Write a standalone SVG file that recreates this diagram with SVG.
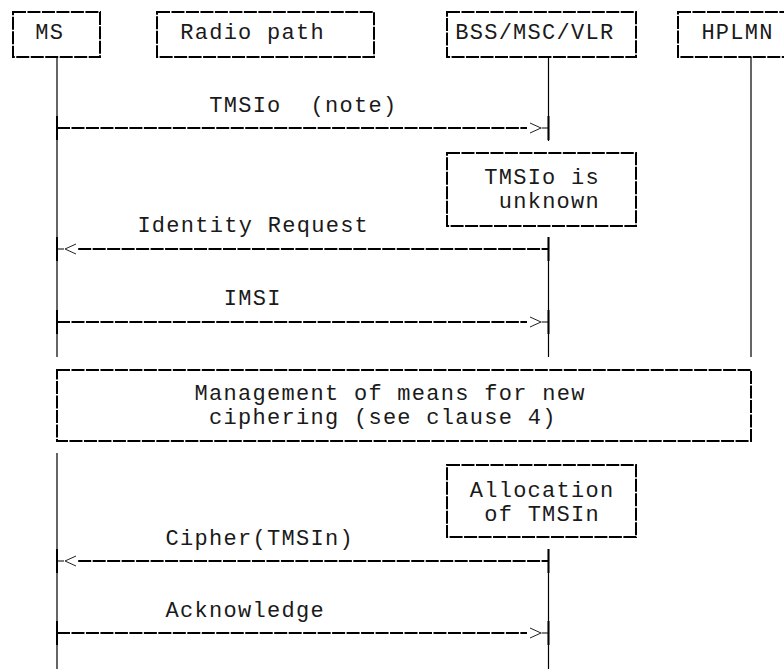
<svg xmlns="http://www.w3.org/2000/svg" width="784" height="669" viewBox="0 0 784 669">
<style>
text{font-family:"Liberation Mono","Courier New",monospace;font-size:22px;letter-spacing:1.28px;fill:#1a1a1a;white-space:pre}
.bx{fill:none;stroke:#000;stroke-width:2;stroke-dasharray:13 1.48}
.life{stroke:#000;stroke-width:1.2;fill:none}
.msg{stroke:#000;stroke-width:2;stroke-dasharray:13 1.48;fill:none}
.tick{stroke:#000;stroke-width:2;fill:none}
.stub{stroke:#555;stroke-width:1.5;fill:none}
.head{stroke:#222;stroke-width:1;fill:none}
</style>
<rect width="784" height="669" fill="#fff"/>
<g id="node-ms">
<rect class="bx" x="13" y="12" width="87" height="45"/>
<text x="35.3" y="39">MS</text>
</g>
<g id="node-radio">
<rect class="bx" x="157" y="12" width="217" height="45"/>
<text x="180.2" y="39">Radio path</text>
</g>
<g id="node-bss">
<rect class="bx" x="447" y="12" width="189" height="45"/>
<text x="455.2" y="39">BSS/MSC/VLR</text>
</g>
<g id="node-hplmn">
<rect class="bx" x="678" y="12" width="130" height="45"/>
<text x="701.4" y="39">HPLMN</text>
</g>
<g id="note-unknown">
<rect class="bx" x="447" y="153" width="189" height="73"/>
<text x="484.2" y="183.5">TMSIo is</text>
<text x="498.7" y="207.5">unknown</text>
</g>
<g id="note-management">
<rect class="bx" x="57" y="370" width="694" height="71"/>
<text x="194.6" y="400">Management of means for new</text>
<text x="209.1" y="423.5">ciphering (see clause 4)</text>
</g>
<g id="note-allocation">
<rect class="bx" x="447" y="465" width="189" height="72"/>
<text x="469.7" y="496.5">Allocation</text>
<text x="484.2" y="520.5">of TMSIn</text>
</g>
<g id="connectors">
<path class="life" d="M57 57V357M57 453V669M548.5 57V141M548.5 237V357M548.5 549V669M751 57V357"/>
<g id="msg-tmsio">
<path class="msg" d="M57 128H527"/>
<path class="head" d="M530 123L541 128L530 133"/>
<path class="stub" d="M541.5 128H548.5"/>
<path class="tick" d="M57 116V140M548.5 116V140"/>
<text x="209.2" y="111.5">TMSIo  (note)</text>
</g>
<g id="msg-identity">
<path class="msg" d="M78.2 249H548.5"/>
<path class="head" d="M76 244L65 249L76 254"/>
<path class="stub" d="M57 249H64"/>
<path class="tick" d="M57 237V261M548.5 237V261"/>
<text x="137.4" y="231.5">Identity Request</text>
</g>
<g id="msg-imsi">
<path class="msg" d="M57 322H527"/>
<path class="head" d="M530 317L541 322L530 327"/>
<path class="stub" d="M541.5 322H548.5"/>
<path class="tick" d="M57 310V334M548.5 310V334"/>
<text x="223.7" y="304.5">IMSI</text>
</g>
<g id="msg-cipher">
<path class="msg" d="M78.2 561H548.5"/>
<path class="head" d="M76 556L65 561L76 566"/>
<path class="stub" d="M57 561H64"/>
<path class="tick" d="M57 549V573M548.5 549V573"/>
<text x="165.6" y="544.5">Cipher(TMSIn)</text>
</g>
<g id="msg-ack">
<path class="msg" d="M57 633H527"/>
<path class="head" d="M530 628L541 633L530 638"/>
<path class="stub" d="M541.5 633H548.5"/>
<path class="tick" d="M57 621V645M548.5 621V645"/>
<text x="165.6" y="616.5">Acknowledge</text>
</g>
</g>
</svg>
